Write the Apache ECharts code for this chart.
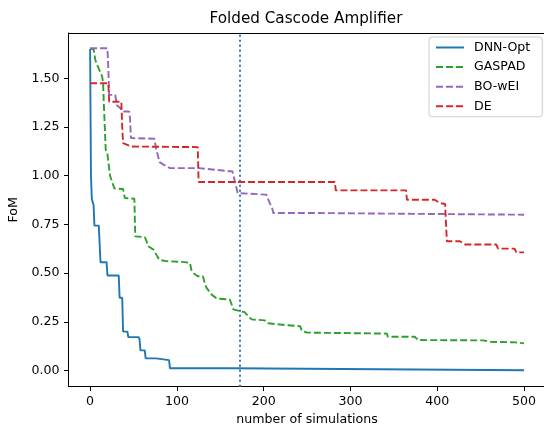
<!DOCTYPE html>
<html>
<head>
<meta charset="utf-8">
<script src="https://cdn.jsdelivr.net/npm/echarts@6/dist/echarts.min.js"></script>
<style>html,body{margin:0;padding:0;background:#fff}#c{width:544px;height:428px}</style>
</head>
<body>
<div id="c"></div>
<script>
const seriesNames = ['DNN-Opt', 'GASPAD', 'BO-wEI', 'DE'];
const xTicks = [0, 100, 200, 300, 400, 500];
const yTicks = [0, 0.25, 0.5, 0.75, 1.0, 1.25, 1.5];
const markerX = 172;

const dnnOpt = [[0,1.65],[1,1.0],[2,0.88],[4,0.85],[5,0.744],[10,0.744],[12,0.556],[19,0.556],[20,0.488],[33,0.488],[34,0.374],[37,0.374],[38,0.2],[43,0.2],[44,0.172],[56,0.172],[57,0.16],[58,0.104],[63,0.104],[64,0.063],[76,0.063],[77,0.054],[91,0.054],[92,0.012],[164,0.012],[165,0.002],[500,0.002]];

const gaspad = [[0,1.65],[4,1.65],[6,1.594],[10,1.55],[14,1.508],[15,1.47],[16,1.35],[18,1.133],[20,1.11],[23,1.0],[26,0.96],[28,0.935],[38,0.932],[40,0.886],[51,0.882],[52,0.689],[63,0.685],[65,0.664],[67,0.638],[73,0.621],[77,0.59],[80,0.568],[88,0.562],[109,0.557],[115,0.553],[117,0.51],[121,0.493],[124,0.484],[130,0.484],[132,0.45],[134,0.426],[140,0.39],[146,0.37],[161,0.365],[165,0.314],[167,0.305],[178,0.3],[182,0.28],[186,0.263],[188,0.258],[201,0.258],[205,0.243],[227,0.233],[242,0.228],[244,0.203],[250,0.195],[342,0.19],[343,0.174],[374,0.174],[378,0.157],[453,0.155],[461,0.148],[490,0.145],[500,0.14]];

const boWei = [[0,1.654],[20,1.654],[21,1.55],[22,1.415],[29,1.415],[31,1.36],[35,1.347],[37,1.33],[45,1.33],[46,1.295],[47,1.193],[74,1.19],[76,1.14],[80,1.07],[85,1.056],[92,1.039],[126,1.039],[127,1.034],[164,1.022],[165,1.005],[170,0.911],[171,0.903],[203,0.903],[207,0.86],[210,0.83],[211,0.809],[253,0.809],[255,0.8],[500,0.8]];

const de = [[0,1.475],[21,1.475],[22,1.38],[36,1.38],[37,1.25],[38,1.167],[40,1.162],[48,1.15],[50,1.147],[124,1.147],[125,0.968],[282,0.968],[283,0.925],[364,0.925],[365,0.877],[397,0.877],[403,0.86],[409,0.855],[411,0.664],[426,0.664],[432,0.647],[468,0.647],[470,0.626],[489,0.626],[491,0.607],[500,0.607]];

const colors = ['#1f77b4', '#2ca02c', '#9467bd', '#d62728'];
const dash = [7, 3];
const font = 'DejaVu Sans';
const fs = 12.6;

const chart = echarts.init(document.getElementById('c'), null, {renderer: 'canvas'});

function lineSeries(name, data, color, type) {
  return {
    name: name, type: 'line', data: data, symbol: 'none', showSymbol: false,
    lineStyle: {color: color, width: 1.9, type: type},
    itemStyle: {color: color},
    emphasis: {disabled: true}, silent: true, z: 2
  };
}

const series = [
  lineSeries(seriesNames[0], dnnOpt, colors[0], 'solid'),
  lineSeries(seriesNames[1], gaspad, colors[1], dash),
  lineSeries(seriesNames[2], boWei, colors[2], dash),
  lineSeries(seriesNames[3], de, colors[3], dash)
];
series[3].markLine = {
  symbol: 'none', silent: true, animation: false,
  label: {show: false},
  lineStyle: {color: colors[0], width: 1.9, type: [1.9, 3.1]},
  emphasis: {disabled: true},
  data: [{xAxis: markerX}]
};

const axisCommon = {
  nameLocation: 'middle',
  nameTextStyle: {fontFamily: font, fontSize: fs, color: '#000'},
  axisLine: {show: true, onZero: false, lineStyle: {color: '#000', width: 1}},
  splitLine: {show: false}
};

chart.setOption({
  animation: false,
  backgroundColor: '#fff',
  grid: {left: 68.4, top: 33, width: 477.4, height: 353.7, show: false, containLabel: false, outerBoundsMode: 'none'},
  graphic: [{
    type: 'text', x: 306, y: 19.5,
    style: {text: 'Folded Cascode Amplifier', font: '15.2px "DejaVu Sans"', fill: '#000', align: 'center', verticalAlign: 'middle'}
  }],
  legend: {
    data: seriesNames, orient: 'vertical', left: 429, top: 37,
    padding: [4, 12, 4, 6], itemGap: 6.6, itemWidth: 28, itemHeight: 14,
    backgroundColor: 'rgba(255,255,255,0.8)', borderColor: '#cccccc', borderWidth: 1, borderRadius: 3,
    itemStyle: {opacity: 0},
    textStyle: {fontFamily: font, fontSize: fs, color: '#000', padding: [0,0,0,5]},
    selectedMode: false
  },
  xAxis: [Object.assign({}, axisCommon, {
    type: 'value', min: -25, max: 525,
    name: 'number of simulations', nameGap: 18,
    axisTick: {show: true, length: 4.4, lineStyle: {color: '#000', width: 1}, customValues: xTicks},
    axisLabel: {fontFamily: font, fontSize: fs, color: '#000', margin: 8.8, customValues: xTicks, formatter: v => String(v)}
  }), {
    type: 'value', min: -25, max: 525, position: 'top', gridIndex: 0,
    axisLine: {show: true, onZero: false, lineStyle: {color: '#000', width: 1}},
    axisTick: {show: false}, axisLabel: {show: false}, splitLine: {show: false}
  }],
  yAxis: Object.assign({}, axisCommon, {
    type: 'value', min: -0.0825, max: 1.7325,
    name: 'FoM', nameGap: 39,
    axisTick: {show: true, length: 4.4, lineStyle: {color: '#000', width: 1}, customValues: yTicks},
    axisLabel: {fontFamily: font, fontSize: fs, color: '#000', margin: 8.8, customValues: yTicks, formatter: v => v.toFixed(2)}
  }),
  series: series
});
</script>
</body>
</html>
